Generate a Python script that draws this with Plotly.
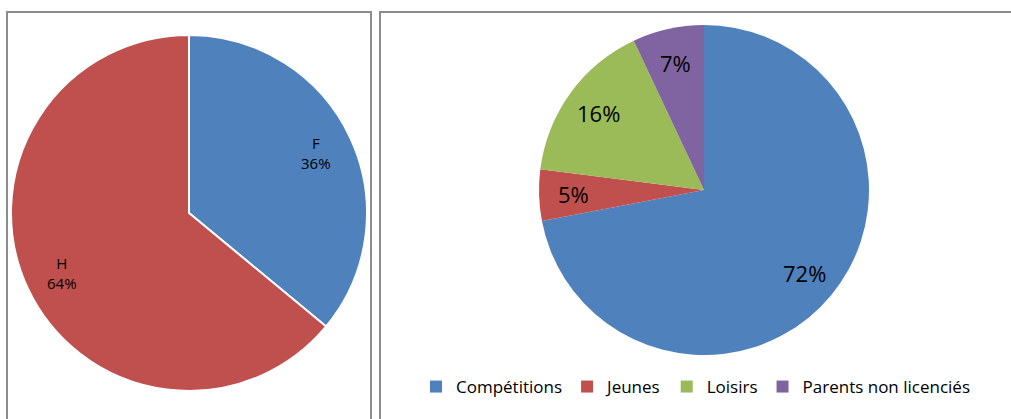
import math
import plotly.graph_objects as go

W, H = 1011, 419

# Data
sex_labels = ["F", "H"]
sex_values = [36, 64]
cat_labels = ["Compétitions", "Jeunes", "Loisirs", "Parents non licenciés"]
cat_values = [72, 5, 16, 7]
colors = ["#4F81BD", "#C0504D", "#9BBB59", "#8064A2"]

FONT = "'Open Sans', sans-serif"

# pie geometry (pixels): center x, center y, radius
LEFT = (189, 213, 178)
RIGHT = (704, 190, 165)
LABEL_R = 0.79


def dom(geo):
    cx, cy, r = geo
    return dict(x=[(cx - r) / W, (cx + r) / W], y=[1 - (cy + r) / H, 1 - (cy - r) / H])


def label_annotations(geo, labels, values, fmt, size):
    cx, cy, r = geo
    total = sum(values)
    anns = []
    cum = 0.0
    for lab, v in zip(labels, values):
        frac = v / total
        mid = (cum + frac / 2) * 2 * math.pi
        cum += frac
        px = cx + LABEL_R * r * math.sin(mid)
        py = cy - LABEL_R * r * math.cos(mid)
        anns.append(dict(
            x=px / W, y=1 - py / H, xref="paper", yref="paper", showarrow=False,
            text=fmt(lab, frac), font=dict(family=FONT, size=size, color="black"),
            xanchor="center", yanchor="middle", align="center",
        ))
    return anns


fig = go.Figure()

fig.add_trace(go.Pie(
    labels=sex_labels, values=sex_values, sort=False, direction="clockwise", rotation=0,
    marker=dict(colors=colors[:2], line=dict(color="white", width=2)),
    textposition="none", showlegend=False, domain=dom(LEFT),
))

fig.add_trace(go.Pie(
    labels=cat_labels, values=cat_values, sort=False, direction="clockwise", rotation=0,
    marker=dict(colors=colors, line=dict(color="white", width=0)),
    textposition="none", showlegend=True, domain=dom(RIGHT),
))

annotations = (
    label_annotations(LEFT, sex_labels, sex_values,
                      lambda l, f: f"{l}<br>{round(f * 100)}%", 15)
    + label_annotations(RIGHT, cat_labels, cat_values,
                        lambda l, f: f"{round(f * 100)}%", 22)
)

shapes = [
    dict(type="rect", xref="paper", yref="paper", x0=7 / W, x1=371 / W, y0=-0.05, y1=1 - 12 / H,
         line=dict(color="#8c8c8c", width=2), fillcolor="rgba(0,0,0,0)", layer="below"),
    dict(type="rect", xref="paper", yref="paper", x0=380 / W, x1=1.05, y0=-0.05, y1=1 - 12 / H,
         line=dict(color="#8c8c8c", width=2), fillcolor="rgba(0,0,0,0)", layer="below"),
]

fig.update_layout(
    width=W, height=H, margin=dict(l=0, r=0, t=0, b=0),
    paper_bgcolor="white", plot_bgcolor="white",
    shapes=shapes, annotations=annotations,
    font=dict(family=FONT, color="black"),
    legend=dict(orientation="h", x=(430 - 14) / W, xanchor="left", y=1 - 387 / H, yanchor="middle",
                font=dict(family=FONT, size=17, color="black"), bgcolor="rgba(0,0,0,0)",
                traceorder="normal"),
)

fig.write_html("out.html", config={"displayModeBar": False},
               post_script="document.body.style.margin='0';")
